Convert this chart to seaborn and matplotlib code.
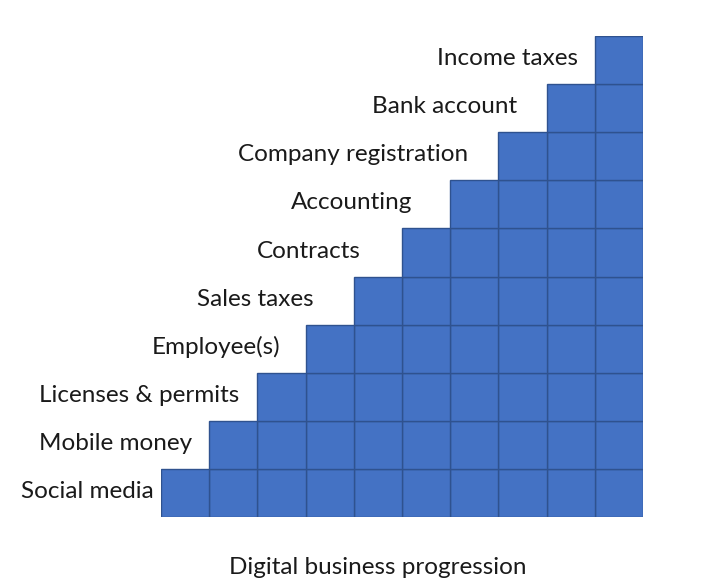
import numpy as np
import pandas as pd
import matplotlib
matplotlib.use("Agg")
import matplotlib.pyplot as plt
import seaborn as sns

steps = ["Social media", "Mobile money", "Licenses & permits", "Employee(s)",
         "Sales taxes", "Contracts", "Accounting", "Company registration",
         "Bank account", "Income taxes"]
heights = [1, 2, 3, 4, 5, 6, 7, 8, 9, 10]
xlabel = "Digital business progression"

# layout: gap (in cell widths) between each label's right edge and its step
label_gaps = [0.15, 0.35, 0.37, 0.52, 0.83, 0.85, 0.79, 0.62, 0.62, 0.35]

n = len(steps)
rows = []
for c, h in enumerate(heights):
    for k in range(h):
        rows.append({"col": c, "level": k})
df = pd.DataFrame(rows)

sns.set_style("white")
plt.rcParams['font.family'] = ['Lato', 'DejaVu Sans']

fig = plt.figure(figsize=(7.07, 5.83), dpi=100)
ax = fig.add_axes([161/707, 66/583, 482/707, 481/583])
sns.histplot(data=df, x="col", hue="level", multiple="stack", discrete=True,
             shrink=1, palette=["#4472C4"] * n, alpha=1, edgecolor="#2F528F",
             linewidth=1.0, legend=False, ax=ax)
ax.set_xlim(-0.5, n - 0.5)
ax.set_ylim(0, n)
ax.axis("off")

for c, (label, h) in enumerate(zip(steps, heights)):
    ax.text(c - 0.5 - label_gaps[c], h - 0.47, label, ha="right", va="center",
            fontsize=17.5, color="#1a1a1a", clip_on=False)

fig.text(378/707, 1 - 567/583, xlabel, ha="center", va="center",
         fontsize=17.5, color="#1a1a1a")

fig.savefig("out.png", dpi=100, facecolor="white")
